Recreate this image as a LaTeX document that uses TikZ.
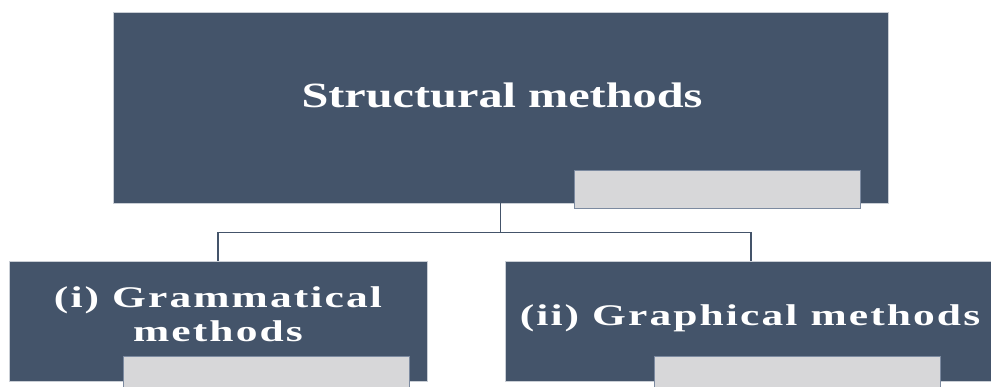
\documentclass[tikz,border=0pt]{standalone}
\usepackage{fontspec}
\newfontfamily\headfont[UprightFont={* Bold}, FakeStretch=1.36]{Liberation Serif}
\newfontfamily\subfont[UprightFont={* Bold}, FakeStretch=1.45, LetterSpace=7]{Liberation Serif}
\definecolor{SlateBox}{HTML}{44546A}
\definecolor{SlateEdge}{HTML}{C9CED5}
\definecolor{TabFill}{HTML}{D7D7D9}
\definecolor{TabEdge}{HTML}{7C8AA0}
\usetikzlibrary{positioning}

\begin{document}
\begin{tikzpicture}[x=1pt, y=-1pt,
  panel/.style={draw=SlateEdge, fill=SlateBox, line width=0.8pt, inner sep=0pt},
  tab/.style={draw=TabEdge, fill=TabFill, line width=0.9pt, inner sep=0pt,
              minimum width=286pt},
  head/.style={text=white, font=\headfont\fontsize{35.5}{40}\selectfont, inner sep=0pt},
  sub/.style={text=white, font=\subfont\fontsize{30}{34}\selectfont,
              align=center, inner sep=0pt},
  link/.style={draw=SlateBox, line width=1.4pt},
]
  \useasboundingbox (0,0) rectangle (991,387);
  \clip (0,0) rectangle (991,387);

  % boxes
  \node[panel, minimum width=775pt, minimum height=191pt] (top) at (500.5,107.5) {};
  \node[panel, minimum width=418pt, minimum height=120pt] (gram) at (218,321) {};
  \node[panel, minimum width=492pt, minimum height=120pt] (graph) at (751,321) {};

  % grey tabs
  \node[tab, minimum height=38pt] (toptab) at (717.5,189) {};
  \node[tab, minimum height=40pt] (gramtab) at (266,376) {};
  \node[tab, minimum height=40pt] (graphtab) at (797.5,376) {};

  % labels
  \node[head, anchor=base] (toptxt) at (502,108) {Structural methods};
  \node[sub] (gramtxt) at (218,314) {(i) Grammatical\\methods};
  \node[sub, anchor=base] (graphtxt) at (750,326) {(ii) Graphical methods};

  % connectors
  \draw[link] (top.south) -- ++(0,29) coordinate (fork);
  \draw[link] (fork) -| (gram.north);
  \draw[link] (fork) -| (graph.north);
\end{tikzpicture}
\end{document}
